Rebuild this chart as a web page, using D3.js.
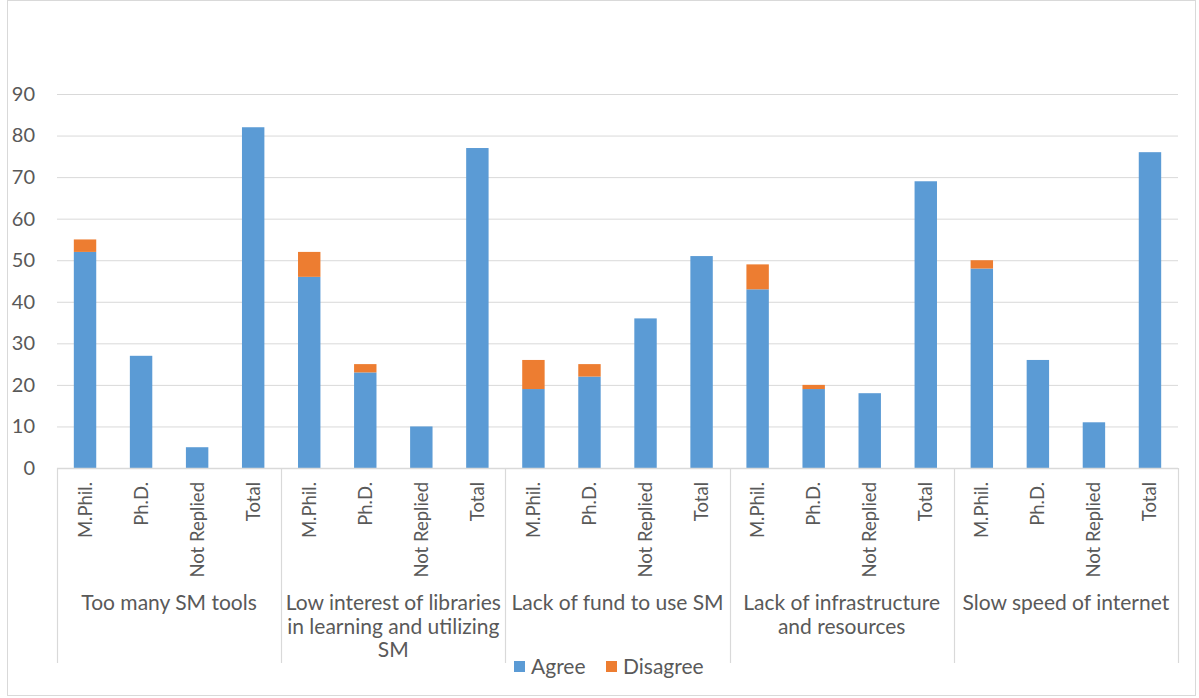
<!DOCTYPE html>
<html>
<head>
<meta charset="utf-8">
<script src="https://cdn.jsdelivr.net/npm/d3@7"></script>
<style>
  html, body { margin: 0; padding: 0; background: #fff; }
  svg text { font-family: Lato, "Open Sans", sans-serif; fill: #595959; }
</style>
</head>
<body>
<svg id="chart" width="1199" height="698"></svg>
<script>
// Problems faced in using social media, by respondent group
const groups = [
  "Too many SM tools",
  "Low interest of libraries in learning and utilizing SM",
  "Lack of fund to use SM",
  "Lack of infrastructure and resources",
  "Slow speed of internet"
];
const subgroups = ["M.Phil.", "Ph.D.", "Not Replied", "Total"];
const seriesNames = ["Agree", "Disagree"];

// values per group, in subgroup order
const agree = [
  [52, 27, 5, 82],
  [46, 23, 10, 77],
  [19, 22, 36, 51],
  [43, 19, 18, 69],
  [48, 26, 11, 76]
];
const disagree = [
  [3, 0, 0, 0],
  [6, 2, 0, 0],
  [7, 3, 0, 0],
  [6, 1, 0, 0],
  [2, 0, 0, 0]
];
const yTicks = [0, 10, 20, 30, 40, 50, 60, 70, 80, 90];
const colors = ["#5B9BD5", "#ED7D31"];

// flatten into rows for stacking
const rows = [];
groups.forEach((g, gi) => subgroups.forEach((s, si) => {
  rows.push({ key: gi + "|" + si, group: g, gi, sub: s, Agree: agree[gi][si], Disagree: disagree[gi][si] });
}));

const svg = d3.select("#chart");
const W = 1199, H = 698;
const x0 = 57, x1 = W - 21;
const yBase = 468, yTopPx = 94;

// outer frame
svg.append("rect").attr("x", 7.5).attr("y", 0.5).attr("width", 1188).attr("height", 695)
  .attr("fill", "none").attr("stroke", "#d9d9d9").attr("stroke-width", 1);

const x = d3.scaleBand().domain(rows.map(d => d.key)).range([x0, x1]).paddingInner(0.6).paddingOuter(0.3);
const xg = d3.scaleBand().domain(groups).range([x0, x1]);
const y = d3.scaleLinear().domain([0, 90]).range([yBase, yTopPx]);

// gridlines + y labels
const yAxis = d3.axisLeft(y).tickValues(yTicks).tickSize(-(x1 - x0)).tickPadding(22);
const gy = svg.append("g").attr("transform", `translate(${x0},0)`).call(yAxis);
gy.select(".domain").remove();
gy.selectAll(".tick line").attr("stroke", "#d9d9d9").attr("stroke-width", 1);
gy.selectAll(".tick text").attr("font-size", 20).attr("font-family", "Lato, sans-serif").style("fill", "#595959");

// stacked bars
const stack = d3.stack().keys(seriesNames)(rows);
svg.append("g").selectAll("g").data(stack).join("g")
  .attr("fill", (d, i) => colors[i])
  .selectAll("rect").data(d => d).join("rect")
  .attr("x", d => x(d.data.key))
  .attr("width", x.bandwidth())
  .attr("y", d => y(d[1]))
  .attr("height", d => y(d[0]) - y(d[1]));

// bottom axis line
svg.append("line").attr("x1", x0).attr("x2", x1).attr("y1", yBase + 0.5).attr("y2", yBase + 0.5)
  .attr("stroke", "#d9d9d9").attr("stroke-width", 1.5);

// group separators
const seps = groups.map(g => xg(g)).concat([x1]);
svg.append("g").selectAll("line").data(seps).join("line")
  .attr("x1", d => Math.round(d) + 0.5).attr("x2", d => Math.round(d) + 0.5)
  .attr("y1", yBase).attr("y2", 663)
  .attr("stroke", "#d9d9d9").attr("stroke-width", 1.2);

// rotated subgroup labels
svg.append("g").selectAll("text").data(rows).join("text")
  .attr("transform", d => `translate(${x(d.key) + x.bandwidth() / 2 + 6.5},482) rotate(-90)`)
  .attr("text-anchor", "end")
  .attr("font-size", 18.5)
  .text(d => d.sub);

// wrapped group labels
const groupFont = 21;
function wrapLines(text, width, size) {
  const ctx = document.createElement("canvas").getContext("2d");
  ctx.font = `${size}px Lato`;
  const words = text.split(" ");
  const lines = [];
  let cur = "";
  words.forEach(w => {
    const t = cur ? cur + " " + w : w;
    if (ctx.measureText(t).width > width && cur) { lines.push(cur); cur = w; }
    else cur = t;
  });
  if (cur) lines.push(cur);
  return lines;
}
const gl = svg.append("g").selectAll("text").data(groups).join("text")
  .attr("text-anchor", "middle")
  .attr("font-size", groupFont)
  .attr("x", d => xg(d) + xg.bandwidth() / 2)
  .attr("y", 610);
gl.each(function (d) {
  const lines = wrapLines(d, 222, groupFont);
  d3.select(this).selectAll("tspan").data(lines).join("tspan")
    .attr("x", xg(d) + xg.bandwidth() / 2)
    .attr("dy", (l, i) => i === 0 ? 0 : 23.5)
    .text(l => l);
});

// legend
const legendX = [514, 606];
const lg = svg.append("g").selectAll("g").data(seriesNames).join("g")
  .attr("transform", (d, i) => `translate(${legendX[i]},661)`);
lg.append("rect").attr("width", 11).attr("height", 11).attr("fill", (d, i) => colors[i]);
lg.append("text").attr("x", 17).attr("y", 13).attr("font-size", 21).text(d => d);
</script>
</body>
</html>
